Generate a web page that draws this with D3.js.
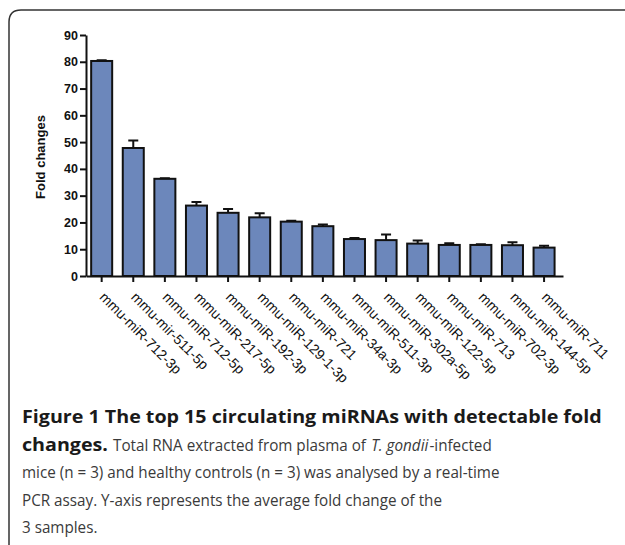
<!DOCTYPE html>
<html>
<head>
    <meta charset="utf-8">
    <script src="https://d3js.org/d3.v7.min.js"></script>
    <style>
        body { margin: 0; background: #fff; }
        .axis path, .axis line { stroke: #111; stroke-width: 2px; }
        .y.axis text { font-family: "Liberation Sans", Arial, sans-serif; font-size: 12.5px; font-weight: bold; fill: #111; }
        .x.axis text { font-family: "Liberation Sans", Arial, sans-serif; font-size: 14px; fill: #111; }
        rect.bar { fill: #6c87bb; stroke: #111; stroke-width: 2px; }
        path.err { stroke: #111; stroke-width: 2px; fill: none; }
        .caption { font-family: "Open Sans", sans-serif; fill: #3a3a3a; font-size: 17px; }
        .caption.b { font-weight: bold; fill: #1a1a1a; font-size: 18px; }
        .caption.i { font-style: italic; }
    </style>
</head>
<body>
<script>
    // miRNA names, mean fold change and upper error (SEM)
    let mirnas = ["mmu-miR-712-3p", "mmu-mir-511-5p", "mmu-miR-712-5p", "mmu-miR-217-5p",
        "mmu-miR-192-3p", "mmu-miR-129-1-3p", "mmu-miR-721", "mmu-miR-34a-3p",
        "mmu-miR-511-3p", "mmu-miR-302a-5p", "mmu-miR-122-5p", "mmu-miR-713",
        "mmu-miR-702-3p", "mmu-miR-144-5p", "mmu-miR-711"];
    let foldChange = [80.3, 47.8, 36.3, 26.3, 23.6, 21.9, 20.3, 18.6, 13.8, 13.4, 12.1, 11.6, 11.6, 11.5, 10.6];
    let sem = [0.3, 2.8, 0.2, 1.3, 1.4, 1.5, 0.3, 0.6, 0.4, 2.1, 1.2, 0.6, 0.3, 1.1, 0.7];
    let yTicks = [0, 10, 20, 30, 40, 50, 60, 70, 80, 90];

    let width = 625, height = 545;

    let svg = d3.select("body").append("svg")
        .attr("width", width)
        .attr("height", height);

    // frame round the figure (open at right and bottom)
    svg.append("path")
        .attr("d", "M9,548 L9,22 Q9,10 21,10 L625,10")
        .attr("fill", "none")
        .attr("stroke", "#333")
        .attr("stroke-width", 1.5);

    let x_scale = d3.scaleBand()
        .domain(mirnas)
        .range([86, 563])
        .paddingInner(0.335)
        .paddingOuter(0.215)
        .align(0.38);

    let y_scale = d3.scaleLinear()
        .domain([0, 90])
        .range([276, 35]);

    // bars
    svg.selectAll("rect.bar")
        .data(foldChange)
        .join("rect")
        .attr("class", "bar")
        .attr("x", (d, i) => x_scale(mirnas[i]))
        .attr("y", d => y_scale(d))
        .attr("width", x_scale.bandwidth())
        .attr("height", d => y_scale(0) - y_scale(d));

    // upper error bars
    svg.selectAll("path.err")
        .data(foldChange)
        .join("path")
        .attr("class", "err")
        .attr("d", (d, i) => {
            let cx = x_scale(mirnas[i]) + x_scale.bandwidth() / 2;
            let y0 = y_scale(d), y1 = y_scale(d + sem[i]);
            return "M" + cx + "," + y0 + "V" + y1 + "M" + (cx - 5) + "," + y1 + "H" + (cx + 5);
        });

    let y_axis = d3.axisLeft(y_scale).tickValues(yTicks).tickSize(6).tickSizeOuter(0).tickPadding(2);
    svg.append("g")
        .attr("class", "y axis")
        .attr("transform", "translate(86,0)")
        .call(y_axis);

    let x_axis = d3.axisBottom(x_scale).tickSize(6).tickSizeOuter(0).tickFormat("");
    svg.append("g")
        .attr("class", "x axis")
        .attr("transform", "translate(0,276)")
        .call(x_axis);

    // rotated category labels
    svg.append("g")
        .attr("class", "x axis")
        .selectAll("text")
        .data(mirnas)
        .join("text")
        .attr("transform", d => {
            let cx = x_scale(d) + x_scale.bandwidth() / 2;
            return "translate(" + (cx - 3) + ",298) rotate(45)";
        })
        .attr("text-anchor", "start")
        .text(d => d);

    svg.append("text")
        .text("Fold changes")
        .attr("font-family", "Liberation Sans, Arial, sans-serif")
        .attr("font-size", 13)
        .attr("font-weight", "bold")
        .attr("fill", "#111")
        .attr("text-anchor", "middle")
        .attr("transform", "translate(45,157) rotate(-90)");

    // caption lines, each a list of [style, text]
    let captionLines = [
        [["b", "Figure 1 The top 15 circulating miRNAs with detectable fold"]],
        [["b", "changes."], ["", "Total RNA extracted from plasma of"], ["i", "T. gondii"], ["", "-infected"]],
        [["", "mice (n = 3) and healthy controls (n = 3) was analysed by a real-time"]],
        [["", "PCR assay. Y-axis represents the average fold change of the"]],
        [["", "3 samples."]]
    ];
    let baselines = [423, 450.5, 478, 505.5, 533];

    // the figure's caption face is narrower in regular and wider in bold than Open Sans:
    // squeeze each style horizontally so that the full lines span the same widths
    let probe = (cls, str) => {
        let t = svg.append("text").attr("class", "caption " + cls).text(str);
        let w = t.node().getComputedTextLength();
        t.remove();
        return w;
    };
    let kx = {
        "b": 580 / probe("b", captionLines[0][0][1]),
        "": 478 / probe("", captionLines[2][0][1])
    };
    kx["i"] = kx[""];

    let capG = svg.append("g");
    captionLines.forEach((parts, li) => {
        let cursor = 22;
        parts.forEach((p, pi) => {
            if (pi > 0 && p[1][0] !== "-") cursor += 5;
            let t = capG.append("text")
                .attr("class", "caption " + p[0])
                .text(p[1]);
            let w = t.node().getComputedTextLength() * kx[p[0]];
            t.attr("transform", "translate(" + cursor + "," + baselines[li] + ") scale(" + kx[p[0]] + ",1)");
            cursor += w + (p[0] === "i" ? 1 : 0);
        });
    });
</script>
</body>
</html>
